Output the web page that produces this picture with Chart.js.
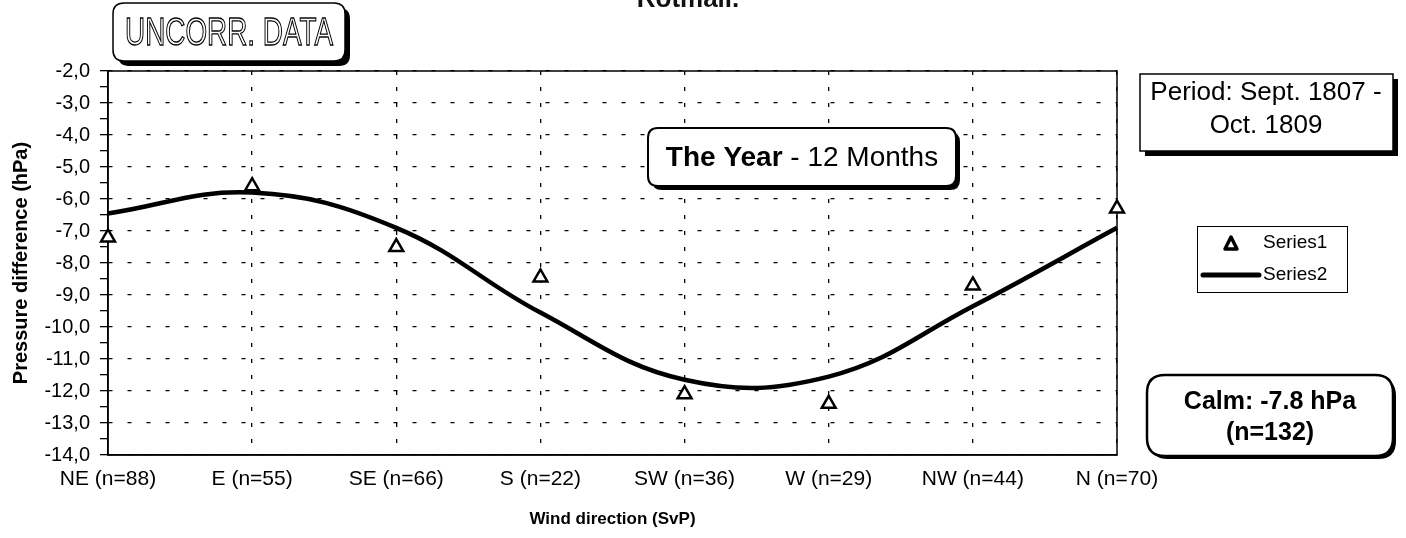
<!DOCTYPE html>
<html>
<head>
<meta charset="utf-8">
<script src="https://cdn.jsdelivr.net/npm/chart.js@4.4.0/dist/chart.umd.min.js"></script>
<style>
  html, body { margin: 0; padding: 0; background: #fff; }
  #wrap { width: 1406px; height: 538px; }
</style>
</head>
<body>
<div id="wrap"><canvas id="myChart" width="1406" height="538"></canvas></div>
<script>
// values
const directions = ["NE (n=88)", "E (n=55)", "SE (n=66)", "S (n=22)", "SW (n=36)", "W (n=29)", "NW (n=44)", "N (n=70)"];
const series1Values = [-7.2, -5.6, -7.5, -8.45, -12.1, -12.4, -8.7, -6.3];
const series2Values = [-6.45, -5.8, -6.9, -9.55, -11.65, -11.55, -9.35, -6.9];
const yMin = -14;
const yMax = -2;

const FONT = '"Liberation Sans", Arial, sans-serif';

function roundRectPath(ctx, x, y, w, h, r) {
  ctx.beginPath();
  ctx.moveTo(x + r, y);
  ctx.lineTo(x + w - r, y);
  ctx.quadraticCurveTo(x + w, y, x + w, y + r);
  ctx.lineTo(x + w, y + h - r);
  ctx.quadraticCurveTo(x + w, y + h, x + w - r, y + h);
  ctx.lineTo(x + r, y + h);
  ctx.quadraticCurveTo(x, y + h, x, y + h - r);
  ctx.lineTo(x, y + r);
  ctx.quadraticCurveTo(x, y, x + r, y);
  ctx.closePath();
}

// box with a dark drop shadow, like the Excel text boxes
function shadowBox(ctx, x, y, w, h, r, shadow, lineWidth) {
  ctx.save();
  roundRectPath(ctx, x + shadow, y + shadow, w, h, r);
  ctx.fillStyle = "#000";
  ctx.fill();
  roundRectPath(ctx, x, y, w, h, r);
  ctx.fillStyle = "#fff";
  ctx.fill();
  ctx.lineWidth = lineWidth;
  ctx.strokeStyle = "#000";
  ctx.stroke();
  ctx.restore();
}

const framePlugin = {
  id: "frame",
  beforeDatasetsDraw(chart) {
    const { ctx, chartArea: a } = chart;
    ctx.save();
    ctx.strokeStyle = "#000";
    ctx.lineWidth = 1.5;
    ctx.strokeRect(a.left, a.top, a.right - a.left, a.bottom - a.top);
    ctx.restore();
  }
};

const notesPlugin = {
  id: "notes",
  afterDraw(chart) {
    const ctx = chart.ctx;
    ctx.save();

    // title, cut off at the top of the scan
    ctx.fillStyle = "#111";
    ctx.font = "bold 26px " + FONT;
    ctx.textAlign = "center";
    ctx.textBaseline = "alphabetic";
    ctx.fillText("Rotmall.", 688, 7);

    // UNCORR. DATA (hollow letters)
    shadowBox(ctx, 113, 3, 232, 58, 11, 5, 1.5);
    ctx.save();
    ctx.font = "39px " + FONT;
    ctx.textAlign = "left";
    const w = ctx.measureText("UNCORR. DATA").width;
    ctx.translate(125, 45);
    ctx.scale(208 / w, 1);
    ctx.lineWidth = 1.3;
    ctx.strokeStyle = "#000";
    ctx.strokeText("UNCORR. DATA", 0, 0);
    ctx.restore();

    // period box
    shadowBox(ctx, 1140, 74, 253, 77, 0, 5, 1.5);
    ctx.fillStyle = "#000";
    ctx.font = "26px " + FONT;
    ctx.textAlign = "center";
    ctx.textBaseline = "middle";
    ctx.fillText("Period: Sept. 1807 -", 1266, 93);
    ctx.fillText("Oct. 1809", 1266, 126);

    // the year box
    shadowBox(ctx, 648, 128, 308, 58, 10, 4, 2);
    ctx.textAlign = "left";
    ctx.font = "bold 28px " + FONT;
    const a = ctx.measureText("The Year").width;
    ctx.font = "28px " + FONT;
    const b = ctx.measureText(" - 12 Months").width;
    const x0 = 802 - (a + b) / 2;
    ctx.font = "bold 28px " + FONT;
    ctx.fillText("The Year", x0, 158);
    ctx.font = "28px " + FONT;
    ctx.fillText(" - 12 Months", x0 + a, 158);

    // calm box
    shadowBox(ctx, 1147, 375, 246, 81, 18, 3, 2.5);
    ctx.textAlign = "center";
    ctx.font = "bold 25px " + FONT;
    ctx.fillText("Calm: -7.8 hPa", 1270, 402);
    ctx.fillText("(n=132)", 1270, 433);

    // legend
    ctx.lineWidth = 1;
    ctx.strokeStyle = "#000";
    ctx.strokeRect(1197.5, 226.5, 150, 66);
    ctx.beginPath();
    ctx.moveTo(1231, 237);
    ctx.lineTo(1237, 249);
    ctx.lineTo(1225, 249);
    ctx.closePath();
    ctx.fillStyle = "#fff";
    ctx.fill();
    ctx.lineWidth = 3.5;
    ctx.lineJoin = "round";
    ctx.stroke();
    ctx.beginPath();
    ctx.moveTo(1203, 275);
    ctx.lineTo(1259, 275);
    ctx.lineWidth = 5;
    ctx.lineCap = "round";
    ctx.stroke();
    ctx.fillStyle = "#000";
    ctx.font = "19px " + FONT;
    ctx.textAlign = "left";
    ctx.fillText("Series1", 1263, 243);
    ctx.fillText("Series2", 1263, 275);

    ctx.restore();
  }
};

const ctx = document.getElementById("myChart").getContext("2d");
new Chart(ctx, {
  type: "line",
  data: {
    labels: directions,
    datasets: [
      {
        label: "Series1",
        data: series1Values,
        showLine: false,
        pointStyle: "triangle",
        pointRadius: 8,
        pointBorderWidth: 2.5,
        pointBorderColor: "#000",
        pointBackgroundColor: "#fff",
        clip: false
      },
      {
        label: "Series2",
        data: series2Values,
        borderColor: "#000",
        borderWidth: 4.5,
        tension: 0.4,
        pointRadius: 0,
        fill: false
      }
    ]
  },
  options: {
    responsive: false,
    animation: false,
    devicePixelRatio: 1,
    layout: { padding: { left: 0, right: 1406 - 1117, top: 71, bottom: 0 } },
    plugins: {
      legend: { display: false },
      tooltip: { enabled: false }
    },
    scales: {
      x: {
        offset: false,
        grid: { color: "#000", lineWidth: 1.3, drawTicks: false },
        border: { display: true, color: "#000", width: 1.5, dash: [4, 12] },
        ticks: {
          color: "#000",
          font: { family: FONT, size: 21 },
          padding: 12,
          maxRotation: 0,
          autoSkip: false
        },
        title: {
          display: true,
          text: "Wind direction (SvP)",
          color: "#000",
          font: { family: FONT, size: 17, weight: "bold" },
          padding: { top: 0, bottom: 8 }
        },
        afterFit: (scale) => { scale.height = 538 - 455; }
      },
      y: {
        min: yMin,
        max: yMax,
        grid: {
          color: (c) => (c.tick && Number.isInteger(c.tick.value) ? "#000" : "rgba(0,0,0,0)"),
          lineWidth: 1.3,
          tickColor: "#000",
          tickLength: 8,
          tickWidth: 1.3,
          tickBorderDash: []
        },
        border: { display: true, color: "#000", width: 1.5, dash: [4, 15] },
        ticks: {
          stepSize: 0.5,
          autoSkip: false,
          color: "#000",
          padding: 10,
          font: { family: FONT, size: 20 },
          callback: (v) => (Number.isInteger(v) ? v.toFixed(1).replace(".", ",") : "")
        },
        title: {
          display: true,
          text: "Pressure difference (hPa)",
          color: "#000",
          font: { family: FONT, size: 20, weight: "bold" },
          padding: { top: 9, bottom: 0 }
        },
        afterFit: (scale) => { scale.width = 108; }
      }
    }
  },
  plugins: [framePlugin, notesPlugin]
});
</script>
</body>
</html>
